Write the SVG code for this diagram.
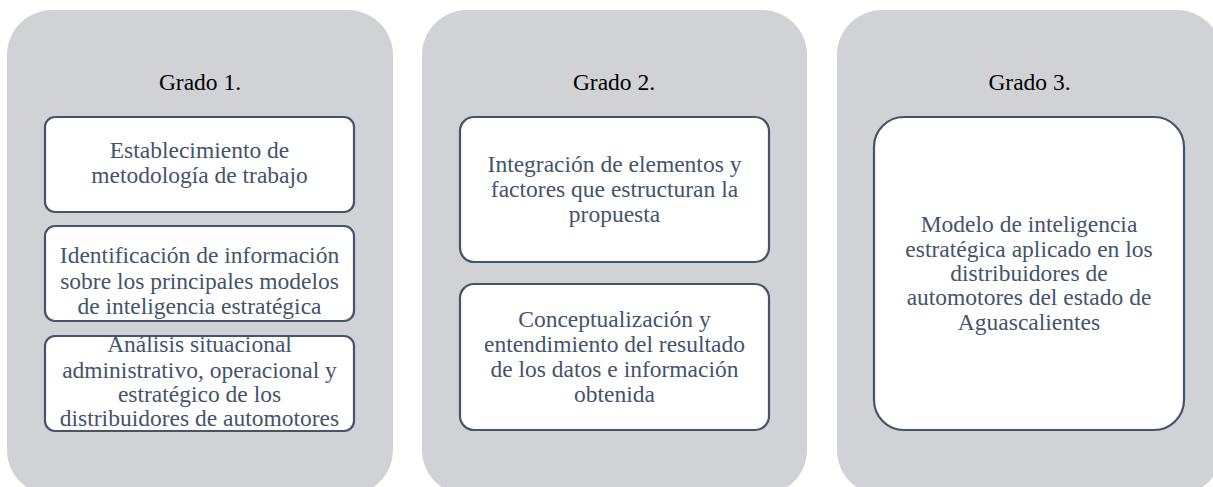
<svg xmlns="http://www.w3.org/2000/svg" width="1213" height="487" viewBox="0 0 1213 487">
<style>
.panel{fill:#d0d2d6;}
.box{fill:#ffffff;stroke:#44546a;stroke-width:2.2;}
.t{font-family:"Liberation Serif","Times New Roman",serif;font-size:23.5px;fill:#44546a;text-anchor:middle;}
.h{font-family:"Liberation Serif","Times New Roman",serif;font-size:23.5px;fill:#000000;text-anchor:middle;}
</style>
<rect width="1213" height="487" fill="#ffffff"/>
<g id="panel1">
<rect class="panel" x="7" y="10" width="386" height="485" rx="45" ry="45"/>
<text class="h" x="200" y="90">Grado 1.</text>
</g>
<g id="panel2">
<rect class="panel" x="422" y="10" width="385" height="485" rx="45" ry="45"/>
<text class="h" x="614" y="90">Grado 2.</text>
</g>
<g id="panel3">
<rect class="panel" x="837" y="10" width="385" height="485" rx="45" ry="45"/>
<text class="h" x="1029.5" y="90">Grado 3.</text>
</g>
<g id="box1a">
<rect class="box" x="45" y="117" width="309" height="95" rx="10" ry="10"/>
<text class="t" x="199.5" y="158">Establecimiento de</text>
<text class="t" x="199.5" y="183">metodología de trabajo</text>
</g>
<g id="box1b">
<rect class="box" x="45" y="226" width="309" height="95" rx="10" ry="10"/>
<text class="t" x="199.5" y="263">Identificación de información</text>
<text class="t" x="199.5" y="289">sobre los principales modelos</text>
<text class="t" x="199.5" y="314">de inteligencia estratégica</text>
</g>
<g id="box1c">
<rect class="box" x="45" y="336" width="309" height="95" rx="10" ry="10"/>
<text class="t" x="199.5" y="352">Análisis situacional</text>
<text class="t" x="199.5" y="377.5">administrativo, operacional y</text>
<text class="t" x="199.5" y="402">estratégico de los</text>
<text class="t" x="199.5" y="426">distribuidores de automotores</text>
</g>
<g id="box2a">
<rect class="box" x="460" y="117" width="309" height="145" rx="14" ry="14"/>
<text class="t" x="614.5" y="171.5">Integración de elementos y</text>
<text class="t" x="614.5" y="196.5">factores que estructuran la</text>
<text class="t" x="614.5" y="221.5">propuesta</text>
</g>
<g id="box2b">
<rect class="box" x="460" y="284" width="309" height="146" rx="14" ry="14"/>
<text class="t" x="614.5" y="326.5">Conceptualización y</text>
<text class="t" x="614.5" y="352">entendimiento del resultado</text>
<text class="t" x="614.5" y="376.5">de los datos e información</text>
<text class="t" x="614.5" y="401.5">obtenida</text>
</g>
<g id="box3">
<rect class="box" x="874" y="117" width="310" height="313" rx="30" ry="30"/>
<text class="t" x="1029" y="231.5">Modelo de inteligencia</text>
<text class="t" x="1029" y="256.5">estratégica aplicado en los</text>
<text class="t" x="1029" y="280.5">distribuidores de</text>
<text class="t" x="1029" y="305">automotores del estado de</text>
<text class="t" x="1029" y="330">Aguascalientes</text>
</g>
<g id="connectors"></g>
</svg>
